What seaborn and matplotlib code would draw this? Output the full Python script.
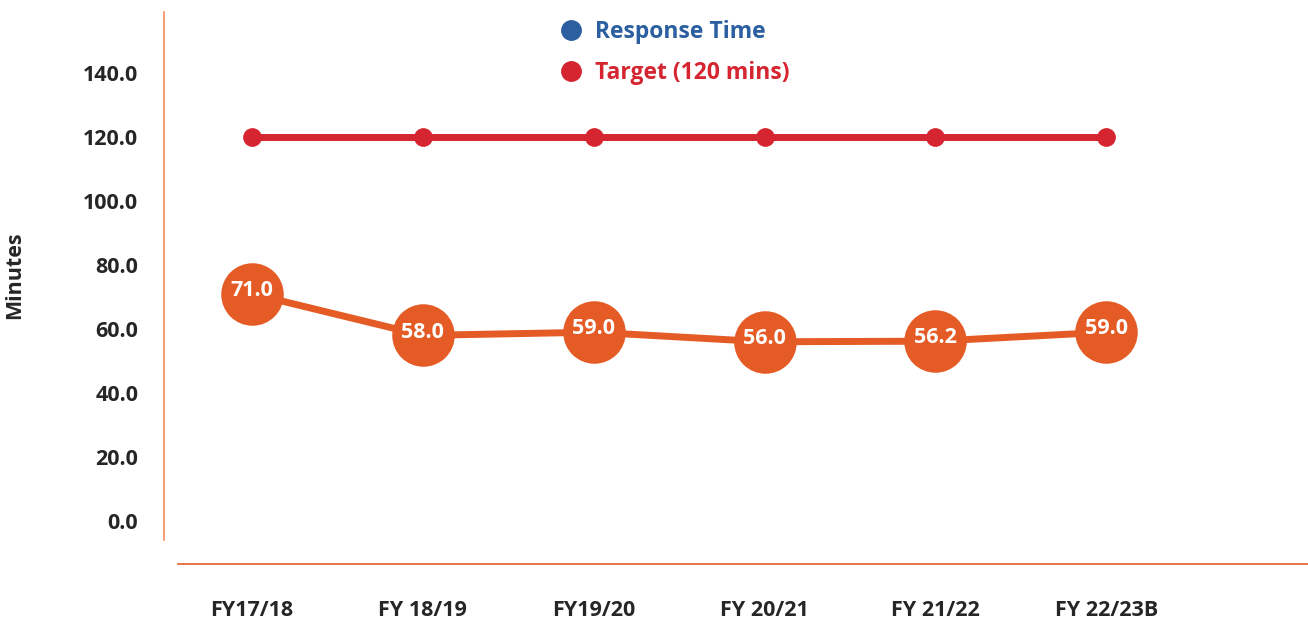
import numpy as np
import pandas as pd
import matplotlib
matplotlib.use('Agg')
import matplotlib.pyplot as plt
import seaborn as sns
from matplotlib.lines import Line2D

sns.set_style('white')
plt.rcParams['font.family'] = ['Open Sans', 'DejaVu Sans']
plt.rcParams['font.weight'] = 'bold'

# 数据
years = ['FY17/18', 'FY 18/19', 'FY19/20', 'FY 20/21', 'FY 21/22', 'FY 22/23B']
response_time = [71.0, 58.0, 59.0, 56.0, 56.2, 59.0]
target = [120, 120, 120, 120, 120, 120]
y_ticks = [0, 20, 40, 60, 80, 100, 120, 140]

orange = '#e55b25'
red = '#d42530'
blue = '#2b5fa0'

df = pd.DataFrame({'year': years, 'response': response_time, 'target': target})

fig = plt.figure(figsize=(13.08, 6.24), dpi=100)
ax = fig.add_axes([164 / 1308, 1 - 564 / 624, 1144 / 1308, 552 / 624])

# 目标线
sns.lineplot(data=df, x='year', y='target', ax=ax, color=red, lw=5,
             marker='o', markersize=13.5, markeredgewidth=0, sort=False)
# 响应时间
sns.lineplot(data=df, x='year', y='response', ax=ax, color=orange, lw=5,
             marker='o', markersize=45, markeredgewidth=0, sort=False)

for i, v in enumerate(response_time):
    ax.text(i, v + 1.0, f'{v:.1f}', color='white', fontsize=15.5,
            fontweight='bold', ha='center', va='center')

ax.set_xlim(-0.515, 6.18)
ax.set_ylim(-13.44, 159.06)
ax.set_yticks(y_ticks)
ax.set_yticklabels([f'{t:.1f}' for t in y_ticks])
ax.tick_params(axis='y', length=0, pad=18.5, labelsize=15.5)
ax.tick_params(axis='x', length=0, pad=26, labelsize=15.5)
for lab in ax.get_xticklabels() + ax.get_yticklabels():
    lab.set_fontweight('bold')

ax.set_xlabel('')
ax.set_ylabel('Minutes', fontsize=15.5, fontweight='bold')
ax.yaxis.set_label_coords(-0.1215, 0.5236)

for s in ['top', 'right']:
    ax.spines[s].set_visible(False)
ax.spines['left'].set_color('#f08a5d')
ax.spines['left'].set_linewidth(1.2)
ax.spines['left'].set_bounds(-5.9, 159)
ax.spines['bottom'].set_color(orange)
ax.spines['bottom'].set_linewidth(1.2)
ax.spines['bottom'].set_bounds(-0.433, 6.18)

handles = [Line2D([], [], ls='', marker='o', color=blue, markersize=14),
           Line2D([], [], ls='', marker='o', color=red, markersize=14)]
leg = fig.legend(handles, ['Response Time', 'Target (120 mins)'],
                 loc='upper left', bbox_to_anchor=(527 / 1308, 1 + 1 / 624),
                 frameon=False, handletextpad=0.05,
                 labelspacing=0.75, labelcolor=[blue, red],
                 prop={'weight': 'bold', 'size': 16.5})

plt.savefig('out.png', dpi=100)
